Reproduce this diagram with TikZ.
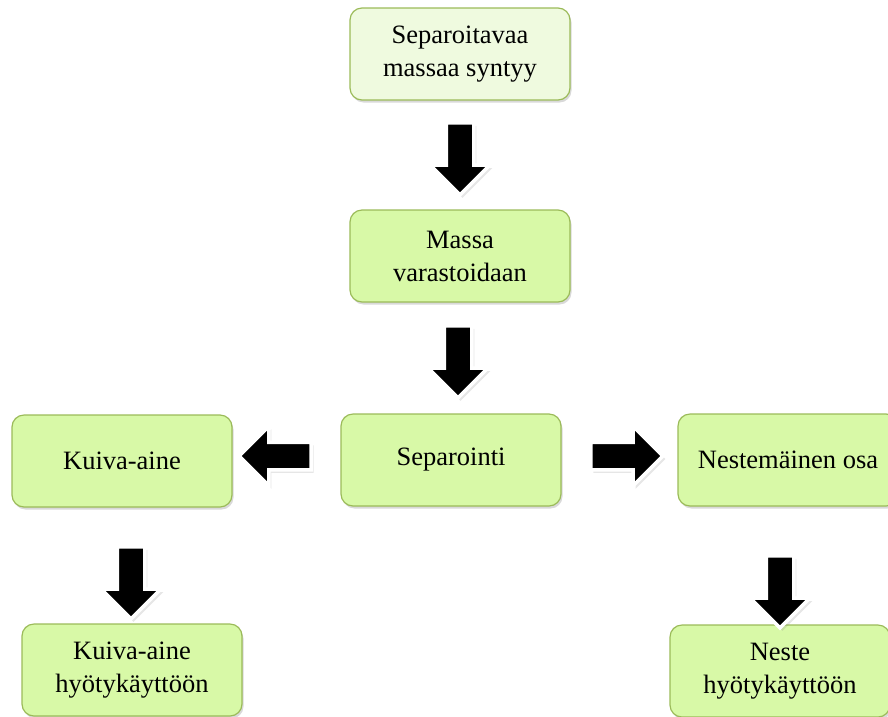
\documentclass[tikz,border=0pt]{standalone}
\usepackage{fontspec}
\setmainfont{Liberation Serif}
\usetikzlibrary{positioning, shapes.arrows, shadows}
\definecolor{stepFill}{HTML}{D8F9A7}
\definecolor{stepPale}{HTML}{EFFADF}
\definecolor{stepEdge}{HTML}{9BBB59}
\tikzset{
    stepBox/.style={
        rectangle,
        draw=stepEdge,
        line width=1.2pt,
        rounded corners=12pt,
        minimum width=220pt,
        minimum height=92pt,
        fill=stepFill,
        align=center,
        font=\fontsize{26.5}{33}\selectfont,
        drop shadow={shadow xshift=1.5pt, shadow yshift=-2.5pt, opacity=0.3}
    },
    % block arrows
    flowArrow/.style={
        single arrow,
        fill=black,
        draw=white,
        line width=3.5pt,
        inner sep=12pt,
        single arrow head extend=16pt,
        minimum height=72pt,
        drop shadow={shadow xshift=2.5pt, shadow yshift=-3pt, opacity=0.2}
    },
    downArrow/.style={flowArrow, shape border rotate=270},
    leftArrow/.style={flowArrow, shape border rotate=180},
    rightArrow/.style={flowArrow}
}

\begin{document}
\begin{tikzpicture}[x=1pt, y=-1pt]
\useasboundingbox (0,0) rectangle (888,716);

% ===== main column =====
\node[stepBox, fill=stepPale] (src)   at (460, 54)  {Separoitavaa\\massaa syntyy};
\node[stepBox]                (store) at (460, 256) {Massa\\varastoidaan};
\node[stepBox]                (sep)   at (451, 460) {Separointi};

% ===== branches =====
\node[stepBox] (dry)    at (122, 461) {Kuiva-aine};
\node[stepBox] (liq)    at (788, 460) {Nestemäinen osa};
\node[stepBox] (dryuse) at (132, 670) {Kuiva-aine\\hyötykäyttöön};
\node[stepBox] (liquse) at (780, 671) {Neste\\hyötykäyttöön};

% arrows between the steps
\node[downArrow]  (a1)  at (460, 152) {};
\node[downArrow]  (a2)  at (458, 355) {};
\node[leftArrow]  (aL)  at (282, 456) {};
\node[rightArrow] (aR)  at (620, 456) {};
\node[downArrow]  (aD1) at (131, 576) {};
\node[downArrow]  (aD2) at (780, 585) {};

\end{tikzpicture}
\end{document}
